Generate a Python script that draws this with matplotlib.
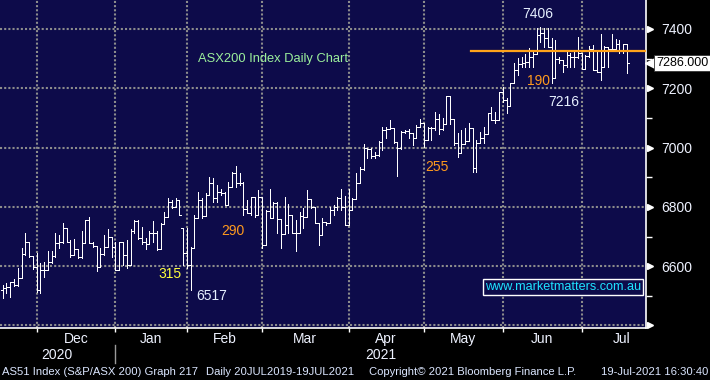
import numpy as np
import pandas as pd
import matplotlib
matplotlib.use("Agg")
import matplotlib.pyplot as plt
from matplotlib import transforms

plt.rcParams['font.family'] = ['Liberation Sans', 'DejaVu Sans']

# ASX200 daily bars, 18 Nov 2020 - 19 Jul 2021
holidays = ['2020-12-25', '2020-12-28', '2021-01-01', '2021-01-26',
            '2021-04-02', '2021-04-05', '2021-06-14']
opens = [
    6520, 6528, 6529, 6546, 6537, 6559, 6641, 6683, 6634,
    6598, 6518, 6587, 6587, 6615, 6634, 6677, 6683, 6728, 6682, 6638, 6657, 6630, 6679, 6756, 6679, 6668, 6596, 6641, 6666, 6700,
    6666, 6587, 6683, 6638, 6604, 6717, 6754, 6694, 6683, 6675, 6713, 6713, 6657, 6742, 6767, 6818, 6799, 6823, 6728,
    6646, 6604, 6660, 6762, 6823, 6770, 6840, 6880, 6830, 6851, 6848, 6806, 6868, 6915, 6882, 6882, 6792, 6778, 6835, 6773,
    6832, 6672, 6787, 6762, 6814, 6758, 6709, 6739, 6773, 6711, 6711, 6769, 6767, 6826, 6801, 6747, 6705, 6750, 6745, 6790, 6801, 6829, 6800,
    6739, 6790, 6826, 6882, 6927, 6998, 6994, 6972, 6975, 7020, 7059, 7062, 7065, 7020, 6998, 7054, 7057, 7050, 7031, 7071,
    7082, 7026, 7065, 7065, 7095, 7062, 7078, 7174, 7095, 7014, 6981, 7012, 7023, 7065, 6932, 7017, 7031, 7046, 7116, 7093, 7093,
    7189, 7161, 7140, 7219, 7262, 7282, 7284, 7290, 7305, 7315, 7380, 7385, 7369, 7340, 7234, 7298, 7296, 7279, 7312, 7307, 7305,
    7318, 7264, 7309, 7332, 7262, 7256, 7273, 7340, 7332, 7332, 7350, 7329, 7349,
]
highs = [
    6535, 6542, 6546, 6558, 6593, 6660, 6713, 6683, 6634,
    6644, 6610, 6614, 6650, 6650, 6711, 6705, 6745, 6728, 6688, 6690, 6657, 6720, 6756, 6765, 6680, 6668, 6660, 6705, 6725, 6700,
    6683, 6683, 6683, 6688, 6725, 6756, 6756, 6731, 6694, 6717, 6752, 6717, 6745, 6784, 6829, 6823, 6829, 6823, 6728,
    6728, 6666, 6772, 6851, 6829, 6846, 6900, 6896, 6874, 6862, 6851, 6885, 6919, 6938, 6913, 6885, 6823, 6835, 6835, 6857,
    6835, 6790, 6860, 6818, 6818, 6758, 6835, 6810, 6773, 6756, 6784, 6795, 6857, 6826, 6801, 6747, 6762, 6750, 6800, 6806, 6835, 6862, 6837,
    6862, 6829, 6913, 6934, 7012, 6998, 6998, 6986, 7023, 7071, 7071, 7093, 7065, 7020, 7057, 7060, 7062, 7050, 7076, 7095,
    7082, 7071, 7071, 7121, 7113, 7099, 7174, 7174, 7095, 7048, 7059, 7065, 7082, 7065, 7026, 7054, 7071, 7116, 7136, 7121, 7189,
    7205, 7166, 7219, 7284, 7301, 7307, 7316, 7335, 7324, 7402, 7408, 7402, 7402, 7369, 7363, 7307, 7296, 7324, 7318, 7324, 7374,
    7318, 7312, 7343, 7346, 7329, 7383, 7343, 7340, 7383, 7365, 7363, 7349, 7349,
]
lows = [
    6492, 6509, 6497, 6533, 6533, 6559, 6638, 6632, 6590,
    6514, 6511, 6565, 6587, 6612, 6632, 6660, 6677, 6680, 6632, 6638, 6626, 6626, 6679, 6677, 6666, 6585, 6596, 6638, 6666, 6630,
    6587, 6587, 6604, 6593, 6604, 6711, 6690, 6675, 6657, 6675, 6683, 6655, 6657, 6742, 6767, 6795, 6799, 6773, 6604,
    6593, 6520, 6660, 6762, 6762, 6770, 6840, 6818, 6818, 6840, 6806, 6806, 6868, 6866, 6874, 6773, 6778, 6773, 6767, 6773,
    6660, 6672, 6762, 6762, 6711, 6660, 6709, 6711, 6711, 6650, 6711, 6728, 6767, 6795, 6745, 6672, 6705, 6739, 6745, 6773, 6790, 6790, 6739,
    6739, 6790, 6826, 6880, 6924, 6964, 6964, 6964, 6972, 6992, 7031, 7062, 7014, 6904, 6994, 7048, 7031, 7009, 7031, 7071,
    7003, 7026, 7026, 7059, 7046, 7059, 7078, 7078, 7009, 6967, 6981, 7012, 7023, 6919, 6919, 7017, 7014, 7046, 7093, 7084, 7093,
    7155, 7118, 7140, 7217, 7245, 7271, 7273, 7271, 7273, 7315, 7357, 7340, 7340, 7217, 7234, 7284, 7256, 7273, 7273, 7273, 7301,
    7264, 7264, 7307, 7262, 7256, 7228, 7273, 7273, 7329, 7329, 7320, 7318, 7250,
]
closes = [
    6528, 6529, 6546, 6537, 6559, 6641, 6683, 6634, 6598,
    6518, 6587, 6587, 6615, 6634, 6677, 6683, 6728, 6682, 6638, 6657, 6630, 6679, 6756, 6679, 6668, 6596, 6641, 6666, 6700, 6666,
    6587, 6683, 6638, 6604, 6717, 6754, 6694, 6683, 6675, 6713, 6713, 6657, 6742, 6767, 6818, 6799, 6823, 6773, 6646,
    6604, 6660, 6762, 6823, 6770, 6840, 6880, 6830, 6851, 6848, 6806, 6868, 6915, 6882, 6882, 6792, 6778, 6835, 6773, 6832,
    6672, 6787, 6762, 6814, 6758, 6709, 6739, 6773, 6711, 6711, 6769, 6767, 6826, 6801, 6747, 6705, 6750, 6745, 6790, 6801, 6829, 6800, 6739,
    6790, 6826, 6882, 6927, 6998, 6994, 6972, 6975, 7020, 7059, 7062, 7065, 7020, 6998, 7054, 7057, 7050, 7031, 7071, 7082,
    7026, 7065, 7065, 7095, 7062, 7078, 7174, 7095, 7014, 6981, 7012, 7023, 7065, 6932, 7017, 7031, 7046, 7116, 7093, 7093, 7189,
    7161, 7140, 7219, 7262, 7282, 7284, 7290, 7305, 7315, 7380, 7385, 7369, 7340, 7234, 7298, 7296, 7279, 7312, 7307, 7305, 7318,
    7264, 7309, 7332, 7262, 7256, 7273, 7340, 7332, 7332, 7350, 7329, 7349, 7286,
]
resistance = 7327
last_price = 7286
y_ticks = [6400, 6600, 6800, 7000, 7200, 7400]
y_tick_labels = ['', '6600', '6800', '7000', '7200', '7400']
y_minor = [6500, 6700, 6900, 7100, 7300]
notes = [('7406', '7406', '#e6f0ff'), ('190', '190', '#ff9a1e'), ('7216', '7216', '#e6f0ff'),
         ('255', '255', '#ff9a1e'), ('290', '290', '#ff9a1e'), ('315', '315', '#ffff3c'),
         ('6517', '6517', '#e6f0ff')]

dates = pd.bdate_range('2020-11-18', '2021-07-19', freq='C', holidays=holidays)
x = np.arange(len(dates))
o = np.array(opens); h = np.array(highs); l = np.array(lows); c = np.array(closes)

bg = '#0d0b4a'
fig = plt.figure(figsize=(7.1, 3.8), dpi=100, facecolor='black')
ax = fig.add_axes([0, 52 / 380, 646 / 710, 328 / 380], facecolor=bg)
ax.set_xlim(-0.72, 171.1)
ax.set_ylim(6391.5, 7497.8)

# month boundaries
months = dates.to_period('M')
starts = [i for i in range(1, len(x)) if months[i] != months[i - 1]]
for s in starts:
    ax.axvline(s, color='#8c8c8c', lw=1.5, ls=(0, (1, 1)), zorder=1)
for yv in y_ticks:
    ax.axhline(yv, color='#8c8c8c', lw=1.5, ls=(0, (1, 1)), zorder=1)

# OHLC bars
ax.vlines(x, l, h, color='white', lw=0.6, zorder=3, antialiased=False)
ax.hlines(o, x - 0.5, x, color='white', lw=0.6, zorder=3, antialiased=False)
ax.hlines(c, x, x + 0.5, color='white', lw=0.6, zorder=3, antialiased=False)

ax.axhline(resistance, xmin=(124.6 + 0.72) / 171.82, xmax=1, color='#ffa31a', lw=1.6, zorder=4)

for side in ['top', 'left']:
    ax.spines[side].set_visible(False)
ax.spines['right'].set_color('white')
ax.spines['bottom'].set_color('white')
ax.spines['right'].set_linewidth(1.2)
ax.spines['bottom'].set_linewidth(1.2)

# right axis
ax.yaxis.tick_right()
ax.set_yticks(y_ticks)
ax.set_yticklabels(y_tick_labels)
ax.set_yticks(y_minor, minor=True)
ax.tick_params(axis='y', which='major', length=0, pad=11, labelcolor='#eef2ff', labelsize=10)
ax.tick_params(axis='y', which='minor', length=4, width=1, color='white', direction='out')
ytr = transforms.blended_transform_factory(ax.transAxes, ax.transData)
ax.plot([1.0065] * len(y_ticks), y_ticks, ls='none', marker='>', ms=5, color='white',
        transform=ytr, clip_on=False)

# last price tag
ax.plot([1.008], [last_price], ls='none', marker='<', ms=9, color='white', mec='white',
        transform=ytr, clip_on=False)
ax.text(1.016, last_price, f'{last_price:.3f}', transform=ytr, va='center', ha='left',
        fontsize=9, color='black',
        bbox=dict(boxstyle='square,pad=0.15', fc='white', ec='#333333', lw=0.6))

# bottom axis: month ticks and labels
ax.set_xticks(starts)
ax.set_xticklabels([])
ax.tick_params(axis='x', length=3, width=1, color='white', direction='out')
xtr = transforms.blended_transform_factory(ax.transData, ax.transAxes)
edges = starts + [starts[-1] + 21]
for a, b in zip(edges[:-1], edges[1:]):
    ax.text((a + b) / 2, -0.034, dates[a].strftime('%b'), transform=xtr, ha='center', va='center',
            fontsize=10, color='#eef2ff', clip_on=False)
jan = starts[1]
ax.text((jan - 1) / 2, -0.082, '2020', transform=xtr, ha='center', va='center',
        fontsize=10, color='#eef2ff', clip_on=False)
ax.text((jan + 171.1) / 2, -0.082, '2021', transform=xtr, ha='center', va='center',
        fontsize=10, color='#eef2ff', clip_on=False)
ax.plot([jan, jan], [-0.052, -0.107], color='#9a9a9a', lw=1, transform=xtr, clip_on=False)

# chart notes
note_pos = {'7406': (142.4, 7450), '190': (142.6, 7225), '7216': (149.3, 7154),
            '255': (115.5, 6934), '290': (61.3, 6719), '315': (44.5, 6574), '6517': (55.7, 6499)}
for key, txt, col in notes:
    px, py = note_pos[key]
    ax.text(px, py, txt, ha='center', va='center', fontsize=10, color=col, zorder=5)

ax.text(71.9, 7299, 'ASX200 Index Daily Chart', ha='center', va='center', fontsize=9.3,
        color='#9cf09c', zorder=5)
ax.text(149.0, 6530, 'www.marketmatters.com.au', ha='center', va='center', fontsize=9.1,
        color='#1fe3ff', zorder=5,
        bbox=dict(boxstyle='square,pad=0.18', fc=bg, ec='white', lw=1))

# footer
fy = (380 - 372) / 380
fs = 8.1
fig.text(2 / 710, fy, 'AS51 Index (S&P/ASX 200) Graph 217', fontsize=fs, color='#dbe6ff', va='center')
fig.text(206 / 710, fy, 'Daily 20JUL2019-19JUL2021', fontsize=fs, color='#dbe6ff', va='center')
fig.text(369 / 710, fy, 'Copyright\u00a9 2021 Bloomberg Finance L.P.', fontsize=fs, color='#dbe6ff', va='center')
fig.text(708 / 710, fy, '19-Jul-2021 16:30:40', fontsize=fs, color='#dbe6ff', va='center', ha='right')

fig.savefig('out.png', dpi=100, facecolor='black')
